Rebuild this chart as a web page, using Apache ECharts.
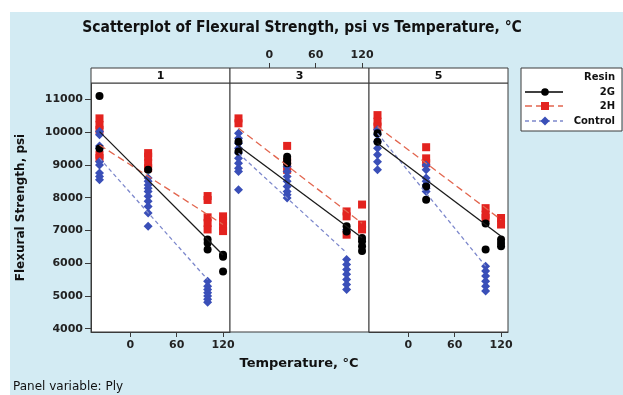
<!DOCTYPE html>
<html><head><meta charset="utf-8">
<script src="https://cdn.jsdelivr.net/npm/echarts@6/dist/echarts.min.js"></script>
<style>html,body{margin:0;padding:0;background:#fff}#c{width:623px;height:395px}</style>
</head><body><div id="c"></div>
<script>
// ---- data (temperature °C, flexural strength psi) ----
const panelNames = ['1', '3', '5'];
const resins = ['2G', '2H', 'Control'];
const xTicks = [0, 60, 120];
const yTicks = [4000, 5000, 6000, 7000, 8000, 9000, 10000, 11000];

const p1_2G = [[-40,11100],[-40,9500],[23,8850],[100,6720],[100,6620],[100,6420],[120,6260],[120,6200],[120,5750]];
const p1_2H = [[-40,10420],[-40,10220],[-40,10070],[-40,9310],[-40,9210],[23,9360],[23,9250],[23,9050],[23,8900],[100,8050],[100,7930],[100,7400],[100,7230],[100,7030],[120,7430],[120,7280],[120,7130],[120,6980]];
const p1_Control = [[-40,10020],[-40,9920],[-40,9580],[-40,9510],[-40,9100],[-40,9000],[-40,8750],[-40,8650],[-40,8550],[23,8600],[23,8500],[23,8390],[23,8290],[23,8190],[23,8040],[23,7890],[23,7730],[23,7530],[23,7130],[100,5450],[100,5300],[100,5200],[100,5100],[100,5000],[100,4900],[100,4810]];

const p3_2G = [[-40,9710],[-40,9410],[23,9250],[23,9150],[23,9050],[100,7130],[100,6970],[120,6770],[120,6670],[120,6520],[120,6370]];
const p3_2H = [[-40,10420],[-40,10270],[23,9580],[23,9100],[23,8850],[100,7580],[100,7430],[100,6870],[120,7790],[120,7180],[120,7030]];
const p3_Control = [[-40,9970],[-40,9810],[-40,9660],[-40,9510],[-40,9360],[-40,9200],[-40,9050],[-40,8900],[-40,8800],[-40,8240],[23,8950],[23,8800],[23,8650],[23,8500],[23,8340],[23,8190],[23,8090],[23,7990],[100,7030],[100,6110],[100,5960],[100,5810],[100,5660],[100,5500],[100,5350],[100,5200]];

const p5_2G = [[-40,9970],[-40,9710],[23,8340],[23,7940],[100,7210],[100,6420],[120,6720],[120,6620],[120,6520]];
const p5_2H = [[-40,10520],[-40,10320],[-40,10170],[23,9540],[23,9200],[23,9050],[100,7680],[100,7480],[100,7380],[120,7380],[120,7180]];
const p5_Control = [[-40,10070],[-40,9920],[-40,9710],[-40,9510],[-40,9310],[-40,9100],[-40,8850],[23,9000],[23,8850],[23,8600],[23,8500],[23,8390],[23,8290],[23,8190],[100,5910],[100,5760],[100,5610],[100,5450],[100,5300],[100,5150]];

// fitted regression line end points
const fit1_2G = [[-40,10016],[120,6250]];
const fit1_2H = [[-40,9610],[120,7180]];
const fit1_Control = [[-40,9205],[100,5500]];
const fit3_2G = [[-40,9580],[120,6775]];
const fit3_2H = [[-40,10117],[120,7220]];
const fit3_Control = [[-40,9357],[100,6315]];
const fit5_2G = [[-40,9661],[120,6822]];
const fit5_2H = [[-40,10168],[120,7329]];
const fit5_Control = [[-40,9965],[100,5909]];

const points = [
  {'2G': p1_2G, '2H': p1_2H, 'Control': p1_Control},
  {'2G': p3_2G, '2H': p3_2H, 'Control': p3_Control},
  {'2G': p5_2G, '2H': p5_2H, 'Control': p5_Control}
];
const fits = [
  {'2G': fit1_2G, '2H': fit1_2H, 'Control': fit1_Control},
  {'2G': fit3_2G, '2H': fit3_2H, 'Control': fit3_Control},
  {'2G': fit5_2G, '2H': fit5_2H, 'Control': fit5_Control}
];

// ---- styles ----
const FONT = 'DejaVu Sans';
const sty = {
  '2G': {symbol: 'circle', size: 8, color: '#000000', line: '#1a1a1a', dash: 'solid', z: 4},
  '2H': {symbol: 'rect', size: 8, color: '#e3231f', line: '#e2664f', dash: [7, 4], z: 2},
  'Control': {symbol: 'diamond', size: 9, color: '#3a4fb8', line: '#7d88cc', dash: [4, 3], z: 3}
};
const gridLefts = [91, 230, 369];
const gridW = 139, gridTop = 83, gridH = 249;

const grids = [], xAxes = [], yAxes = [], series = [];
gridLefts.forEach((l, i) => {
  grids.push({left: l, top: gridTop, width: gridW, height: gridH, show: true,
    backgroundColor: '#fff', borderColor: '#3a3a3a', borderWidth: 1});
  const showBottom = i !== 1;
  xAxes.push({type: 'value', gridIndex: i, min: -51, max: 129,
    position: showBottom ? 'bottom' : 'top', offset: showBottom ? 0 : 15,
    axisLine: {show: true, onZero: false, lineStyle: {color: '#3a3a3a'}},
    axisTick: {show: true, length: 5, customValues: xTicks, lineStyle: {color: '#3a3a3a'}},
    axisLabel: {show: true, customValues: xTicks, margin: showBottom ? 8 : 7,
      formatter: v => String(v),
      fontFamily: FONT, fontWeight: 'bold', fontSize: 11, color: '#222'},
    splitLine: {show: false}
  });
  yAxes.push({type: 'value', gridIndex: i, min: 3900, max: 11500,
    axisLine: {show: i === 0, onZero: false, lineStyle: {color: '#3a3a3a'}},
    axisTick: {show: i === 0, length: 6, customValues: yTicks, lineStyle: {color: '#3a3a3a'}},
    axisLabel: {show: i === 0, customValues: yTicks, margin: 8, formatter: v => String(v),
      fontFamily: FONT, fontWeight: 'bold', fontSize: 11, color: '#222'},
    splitLine: {show: false},
    name: i === 0 ? 'Flexural Strength, psi' : '', nameLocation: 'middle', nameGap: 64,
    nameTextStyle: {fontFamily: FONT, fontWeight: 'bold', fontSize: 12, color: '#111'}
  });
  ['2H', 'Control', '2G'].forEach(r => {
    const s = sty[r];
    series.push({type: 'scatter', name: r, xAxisIndex: i, yAxisIndex: i,
      data: points[i][r], symbol: s.symbol, symbolSize: s.size, z: s.z,
      itemStyle: {color: s.color, opacity: 1}, emphasis: {disabled: true}, animation: false});
  });
  ['2H', 'Control', '2G'].forEach(r => {
    const s = sty[r];
    series.push({type: 'line', name: r + ' fit', xAxisIndex: i, yAxisIndex: i,
      data: fits[i][r], symbol: 'none', showSymbol: false, z: 6,
      lineStyle: {color: s.line, width: 1.3, type: s.dash}, animation: false});
  });
});

// ---- decorations (strips, titles, legend) ----
const graphic = [
  {type: 'rect', z: -10, shape: {x: 10, y: 12, width: 613, height: 383}, style: {fill: '#d3ebf3'}},
  {type: 'text', style: {text: 'Scatterplot of Flexural Strength, psi vs Temperature, °C', x: 302, y: 28,
    textAlign: 'center', textVerticalAlign: 'middle', font: 'bold 15.5px "DejaVu Sans Condensed", "DejaVu Sans"', fill: '#111'}},
  {type: 'text', style: {text: 'Temperature, °C', x: 299, y: 364,
    textAlign: 'center', textVerticalAlign: 'middle', font: 'bold 13px "DejaVu Sans"', fill: '#111'}},
  {type: 'text', style: {text: 'Panel variable: Ply', x: 13, y: 387,
    textAlign: 'left', textVerticalAlign: 'middle', font: '12px "DejaVu Sans"', fill: '#111'}}
];
gridLefts.forEach((l, i) => {
  graphic.push({type: 'rect', z: 5, shape: {x: l, y: 68, width: gridW, height: 15},
    style: {fill: '#fff', stroke: '#3a3a3a', lineWidth: 1}});
  graphic.push({type: 'text', z: 6, style: {text: panelNames[i], x: l + gridW / 2, y: 76,
    textAlign: 'center', textVerticalAlign: 'middle', font: 'bold 11px "DejaVu Sans"', fill: '#111'}});
});
// legend
graphic.push({type: 'rect', z: 5, shape: {x: 521, y: 68, width: 101, height: 63},
  style: {fill: '#fff', stroke: '#3a3a3a', lineWidth: 1}});
graphic.push({type: 'text', z: 6, style: {text: 'Resin', x: 615, y: 77, textAlign: 'right',
  textVerticalAlign: 'middle', font: 'bold 10px "DejaVu Sans"', fill: '#111'}});
const legY = [92, 106, 121];
resins.forEach((r, k) => {
  const s = sty[r], y = legY[k];
  graphic.push({type: 'line', z: 6, shape: {x1: 525, y1: y, x2: 563, y2: y},
    style: {stroke: r === '2G' ? '#000' : s.line, lineWidth: 1.3, lineDash: s.dash === 'solid' ? null : s.dash}});
  if (r === '2G') graphic.push({type: 'circle', z: 7, shape: {cx: 545, cy: y, r: 3.8}, style: {fill: s.color}});
  if (r === '2H') graphic.push({type: 'rect', z: 7, shape: {x: 541, y: y - 4, width: 8, height: 8}, style: {fill: s.color}});
  if (r === 'Control') graphic.push({type: 'polygon', z: 7, shape: {points: [[545, y - 4.5], [549.5, y], [545, y + 4.5], [540.5, y]]}, style: {fill: s.color}});
  graphic.push({type: 'text', z: 6, style: {text: r, x: 615, y: y, textAlign: 'right',
    textVerticalAlign: 'middle', font: 'bold 10px "DejaVu Sans"', fill: '#111'}});
});

const chart = echarts.init(document.getElementById('c'), null, {renderer: 'canvas'});
chart.setOption({
  animation: false,
  backgroundColor: '#fff',
  grid: grids, xAxis: xAxes, yAxis: yAxes, series: series, graphic: graphic
});
</script></body></html>
